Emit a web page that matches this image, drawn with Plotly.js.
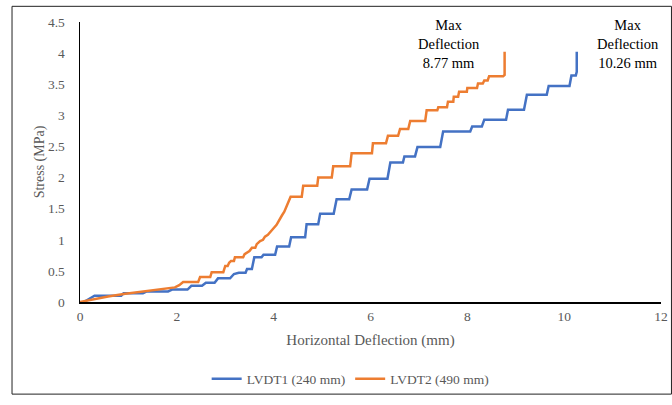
<!DOCTYPE html>
<html>
<head>
<meta charset="utf-8">
<script src="https://cdn.plot.ly/plotly-3.0.1.min.js"></script>
<style>html,body{margin:0;padding:0;background:#fff;}#chart{width:672px;height:405px;}</style>
</head>
<body>
<div id="chart"></div>
<script>
// LVDT1 (240 mm) — horizontal deflection (mm) and stress (MPa)
var lvdt1X = [0.08,0.3,0.85,0.9,1.3,1.38,1.82,1.9,2.22,2.3,2.52,2.6,2.78,2.85,3.1,3.18,3.28,3.42,3.45,3.55,3.6,3.75,3.79,4.03,4.07,4.32,4.36,4.65,4.68,4.92,4.96,5.24,5.3,5.56,5.61,5.93,5.98,6.35,6.41,6.67,6.7,6.92,6.97,7.44,7.5,8.06,8.1,8.3,8.35,8.8,8.84,9.17,9.23,9.64,9.68,10.11,10.15,10.24,10.26,10.26];
var lvdt1Y = [0,0.1,0.1,0.14,0.14,0.17,0.17,0.2,0.2,0.26,0.26,0.31,0.31,0.38,0.38,0.45,0.47,0.47,0.53,0.53,0.72,0.72,0.76,0.76,0.89,0.89,1.04,1.04,1.25,1.25,1.42,1.42,1.65,1.65,1.81,1.81,1.98,1.98,2.24,2.24,2.34,2.34,2.49,2.49,2.74,2.74,2.82,2.82,2.93,2.93,3.09,3.09,3.33,3.33,3.47,3.47,3.64,3.64,3.7,4.02];
// LVDT2 (490 mm)
var lvdt2X = [0,0.3,0.58,0.9,1.27,1.6,1.96,2.05,2.13,2.44,2.48,2.69,2.72,2.96,3.0,3.05,3.08,3.12,3.18,3.2,3.37,3.4,3.45,3.5,3.55,3.62,3.65,3.72,3.78,3.82,3.88,3.93,3.98,4.06,4.1,4.14,4.17,4.22,4.27,4.3,4.35,4.58,4.61,4.9,4.92,5.2,5.23,5.58,5.61,6.03,6.05,6.32,6.36,6.57,6.61,6.78,6.82,7.13,7.16,7.38,7.4,7.58,7.6,7.71,7.72,7.81,7.83,7.99,8.0,8.2,8.22,8.32,8.35,8.42,8.45,8.74,8.77,8.77];
var lvdt2Y = [0,0.05,0.09,0.13,0.17,0.2,0.235,0.27,0.32,0.32,0.4,0.4,0.48,0.48,0.58,0.58,0.63,0.66,0.66,0.72,0.72,0.77,0.8,0.82,0.87,0.87,0.93,0.98,1.0,1.05,1.08,1.13,1.17,1.24,1.3,1.36,1.39,1.45,1.55,1.6,1.69,1.69,1.87,1.87,2.0,2.0,2.18,2.18,2.39,2.39,2.55,2.55,2.67,2.67,2.78,2.78,2.91,2.91,3.08,3.08,3.13,3.13,3.22,3.22,3.3,3.3,3.38,3.38,3.44,3.44,3.51,3.51,3.56,3.56,3.63,3.63,3.65,4.02];

var seriesNames = ['LVDT1 (240 mm)', 'LVDT2 (490 mm)'];
var xTicks = [0,2,4,6,8,10,12];
var yTicks = [0,0.5,1,1.5,2,2.5,3,3.5,4,4.5];
var notes = [
  {x: 8.77, text: 'Max<br>Deflection<br>8.77 mm'},
  {x: 10.26, text: 'Max<br>Deflection<br>10.26 mm'}
];

var serif = 'Liberation Serif, Times New Roman, serif';
var grey = '#595959';

var traces = [
  {x: lvdt1X, y: lvdt1Y, name: seriesNames[0], mode: 'lines', line: {color: '#4472C4', width: 2.5}},
  {x: lvdt2X, y: lvdt2Y, name: seriesNames[1], mode: 'lines', line: {color: '#ED7D31', width: 2.5}}
];

var layout = {
  width: 672, height: 405,
  margin: {l: 80, r: 11, t: 22, b: 96},
  paper_bgcolor: '#fff', plot_bgcolor: '#fff',
  showlegend: true,
  font: {family: serif, color: grey, size: 13.5},
  xaxis: {
    range: [0, 12], tickvals: xTicks, ticktext: xTicks.map(String),
    showgrid: false, zeroline: false, showline: true, linecolor: '#000', linewidth: 1.5,
    ticks: '', ticklabelstandoff: 1,
    tickfont: {family: serif, color: grey, size: 13.5},
    title: {text: 'Horizontal Deflection (mm)', font: {family: serif, color: grey, size: 15}, standoff: 12},
    automargin: false
  },
  yaxis: {
    range: [0, 4.5], tickvals: yTicks, ticktext: yTicks.map(String),
    showgrid: false, zeroline: false, showline: true, linecolor: '#000', linewidth: 1.5,
    ticks: '', ticklabelstandoff: 11,
    tickfont: {family: serif, color: grey, size: 13.5},
    title: {text: 'Stress (MPa)', font: {family: serif, color: grey, size: 14}, standoff: 0},
    automargin: false
  },
  legend: {
    orientation: 'h', x: 0.465, xanchor: 'center', y: -0.275, yanchor: 'middle',
    font: {family: serif, color: grey, size: 13.5}, bgcolor: 'rgba(0,0,0,0)'
  },
  annotations: [
    {x: notes[0].x, y: 1.025, xref: 'x', yref: 'paper', yanchor: 'top', xanchor: 'center', showarrow: false,
     xshift: -56, text: notes[0].text, font: {family: serif, color: '#000', size: 14.5}, align: 'center'},
    {x: notes[1].x, y: 1.025, xref: 'x', yref: 'paper', yanchor: 'top', xanchor: 'center', showarrow: false,
     xshift: 51, text: notes[1].text, font: {family: serif, color: '#000', size: 14.5}, align: 'center'}
  ],
  shapes: [
    {type: 'rect', xref: 'paper', yref: 'paper', x0: -0.117, x1: 1.018, y0: -0.329, y1: 1.056,
     line: {color: '#222', width: 1}, fillcolor: 'rgba(0,0,0,0)', layer: 'below'}
  ]
};

Plotly.newPlot('chart', traces, layout, {displayModeBar: false, staticPlot: true});
</script>
</body>
</html>
